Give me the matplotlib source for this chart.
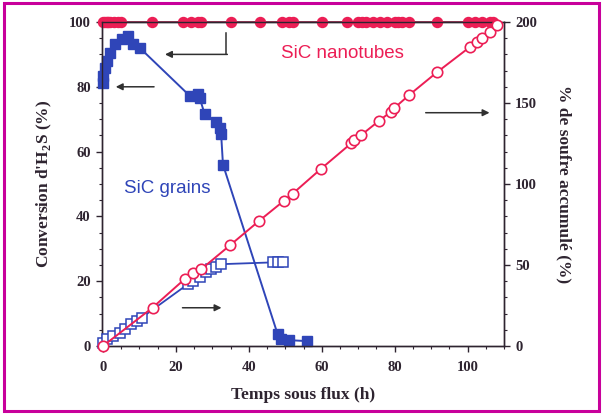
import numpy as np
import matplotlib.pyplot as plt
from matplotlib.patches import Rectangle

# SiC nanotubes: H2S conversion (left axis)
nt_t = [0, 0.5, 1, 1.5, 2, 3, 4, 5, 13.5, 22, 24, 26, 27, 35, 43, 49, 51, 52,
        60, 67, 70, 71, 72, 74, 76, 78, 80, 81, 82, 84, 91.5, 100, 102, 104, 106, 107]
nt_conv = [100] * len(nt_t)

# SiC nanotubes: accumulated sulfur (right axis)
nt_s_t = [0, 13.6, 22.4, 24.7, 27, 34.9, 42.9, 49.7, 52, 59.8, 68, 68.9, 70.7,
          75.7, 78.9, 79.8, 83.9, 91.6, 100.7, 102.5, 104, 106, 108]
nt_s = [0, 23.7, 41.3, 44.8, 47.5, 62.3, 77.4, 89.8, 94, 109.4, 125, 127, 130,
        139, 144.5, 146.7, 154.8, 169, 184.7, 187.5, 190, 194, 198]

# SiC grains: H2S conversion (left axis)
gr_t = [0.1, 0.1, 0.5, 1, 1.9, 3.3, 5.1, 6.9, 8.3, 10.1, 23.8, 26, 26.5, 27.9,
        31, 32, 32.4, 32.9, 47.9, 48.8, 51, 56]
gr_conv = [81.3, 83.3, 85.9, 88, 90.5, 93.1, 94.7, 95.7, 93.1, 92, 77.2, 77.7,
           76.6, 71.5, 69, 67.4, 65.3, 56, 3.6, 2.1, 1.8, 1.5]

# SiC grains: accumulated sulfur (right axis)
gr_s_t = [0, 1, 2.8, 4.6, 6, 7.8, 9.2, 10.6, 23.3, 24.7, 26.5, 28.3, 29.7, 31,
          32.4, 46.5, 47.9, 49.3]
gr_s = [2, 4.1, 6.2, 8.2, 10.3, 13.4, 15.5, 17.5, 38.2, 40.2, 42.3, 45.4, 47.5,
        49, 50.5, 51.6, 51.6, 51.6]

red = '#EC1E55'
blue = '#2F45B8'
dark = '#2E2430'
serif = 'Liberation Serif'

fig = plt.figure(figsize=(6.03, 4.15), dpi=100)
ax = fig.add_axes([0.169, 0.1663, 0.667, 0.7807])
ax2 = ax.twinx()

ax.plot(nt_t, nt_conv, '-', color='#8A2040', lw=1.2, marker='o', ms=7.2,
        mfc=red, mec=red, zorder=5, clip_on=False)
ax.plot(gr_t, gr_conv, '-', color=blue, lw=1.4, marker='s', ms=7.8,
        mfc=blue, mec=blue, zorder=4, clip_on=False)
ax2.plot(nt_s_t, nt_s, '-', color=red, lw=1.4, marker='o', ms=7.5,
         mfc='white', mec=red, mew=1.2, zorder=4, clip_on=False)
ax2.plot(gr_s_t, gr_s, '-', color=blue, lw=1.3, marker='s', ms=7,
         mfc='white', mec=blue, mew=1.1, zorder=3, clip_on=False)

ax.set_xlim(-0.3, 110)
ax.set_ylim(0, 100)
ax2.set_ylim(0, 200)

ax.set_xticks([0, 20, 40, 60, 80, 100])
ax.set_xticks(np.arange(0, 111, 5), minor=True)
ax.set_yticks([0, 20, 40, 60, 80, 100])
ax.set_yticks(np.arange(0, 101, 5), minor=True)
ax2.set_yticks([0, 50, 100, 150, 200])
ax2.set_yticks(np.arange(0, 201, 10), minor=True)

for a in (ax, ax2):
    a.tick_params(which='major', length=4, width=1, color=dark, labelsize=10.5,
                  labelcolor=dark, pad=4)
    a.tick_params(which='minor', length=2.5, width=0.8, color=dark)
    for lbl in a.get_xticklabels() + a.get_yticklabels():
        lbl.set_fontfamily(serif)
        lbl.set_fontweight('bold')
    for s in a.spines.values():
        s.set_color(dark)
        s.set_linewidth(1)
ax.tick_params(axis='x', pad=7)

ax.set_xlabel('Temps sous flux (h)', family=serif, weight='bold', fontsize=12.5,
              color=dark, labelpad=9)
ax.set_ylabel("Conversion d'H$_\\mathregular{2}$S (%)", family=serif,
              weight='bold', fontsize=12.5, color=dark, labelpad=11)
ax2.set_ylabel('% de soufre accumulé (%)', family=serif, weight='bold',
               fontsize=12.5, color=dark, rotation=270, labelpad=25)

ax.text(65.6, 90.4, 'SiC nanotubes', color=red, fontsize=13.5,
        family='Liberation Sans', ha='center', va='center')
ax.text(17.5, 48.5, 'SiC grains', color=blue, fontsize=13.5,
        family='Liberation Sans', ha='center', va='center')

# arrows
acol = '#303030'
ax.plot([33.8, 33.8], [96.5, 90], color=acol, lw=1.1)
ax.annotate('', xy=(17, 90), xytext=(34.1, 90),
            arrowprops=dict(arrowstyle='-|>', color=acol, lw=1.1,
                            mutation_scale=10, shrinkA=0, shrinkB=0))
ax.annotate('', xy=(3.5, 80), xytext=(14, 80),
            arrowprops=dict(arrowstyle='-|>', color=acol, lw=1.1,
                            mutation_scale=10, shrinkA=0, shrinkB=0))
ax.annotate('', xy=(32.5, 11.8), xytext=(21.8, 11.8),
            arrowprops=dict(arrowstyle='-|>', color=acol, lw=1.1,
                            mutation_scale=10, shrinkA=0, shrinkB=0))
ax.annotate('', xy=(106, 72), xytext=(88.5, 72),
            arrowprops=dict(arrowstyle='-|>', color=acol, lw=1.1,
                            mutation_scale=10, shrinkA=0, shrinkB=0))

# magenta frame around the figure
fig.patches.append(Rectangle((0.006, 0.009), 0.988, 0.983, transform=fig.transFigure,
                             fill=False, edgecolor='#C8009B', lw=2.2))

fig.savefig('out.png', dpi=100)
